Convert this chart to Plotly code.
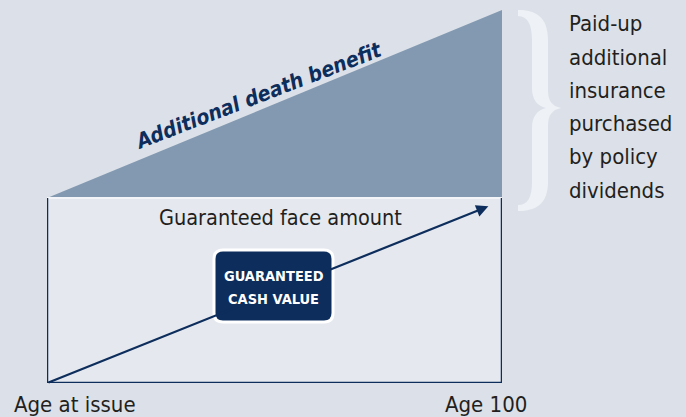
import plotly.graph_objects as go

# ---- data ----
age_labels = ["Age at issue", "Age 100"]
age_pos = [0, 1]
face_amount = [1.0, 1.0]
total_death_benefit = [1.0, 2.016]
cash_value = [0.0, 0.955]
cash_end_x = 0.97
label_additional = "Additional death benefit"
label_face = "Guaranteed face amount"
label_cash = ["GUARANTEED", "CASH VALUE"]
label_paidup = ["Paid-up", "additional", "insurance", "purchased", "by policy", "dividends"]

W, H = 686, 417
L, R, T, B = 47, 184, 0, 34
PW, PH = W - L - R, H - T - B
YMAX = 2.07

def px(x):  # pixel -> paper x
    return (x - L) / PW

def py(y):  # pixel -> paper y
    return (H - B - y) / PH

FONT = "DejaVu Sans Condensed, Liberation Sans Narrow, sans-serif"
NAVY = "#0d2d5c"
BG = "#dce1e9"
TRI = "#8399b1"
RECT = "#e5e8ee"
TXT = "#231f20"

fig = go.Figure()

# Additional death benefit triangle
fig.add_trace(go.Scatter(
    x=[age_pos[0], age_pos[1], age_pos[1], age_pos[0]],
    y=[total_death_benefit[0], total_death_benefit[1], face_amount[1], face_amount[0]],
    fill="toself", fillcolor=TRI, mode="lines", line=dict(width=0),
    hoverinfo="skip", showlegend=False))

# Guaranteed face amount rectangle
fig.add_trace(go.Scatter(
    x=[age_pos[0], age_pos[1], age_pos[1], age_pos[0], age_pos[0]],
    y=[0, 0, face_amount[1], face_amount[0], 0],
    fill="toself", fillcolor=RECT, mode="lines", line=dict(width=0),
    hoverinfo="skip", showlegend=False))

# top edge (light)
fig.add_trace(go.Scatter(
    x=age_pos, y=face_amount, mode="lines",
    line=dict(color="#f2f4f7", width=2), hoverinfo="skip", showlegend=False))

# navy border left/bottom/right
fig.add_trace(go.Scatter(
    x=[age_pos[0], age_pos[0], age_pos[1], age_pos[1]],
    y=[face_amount[0], 0, 0, face_amount[1]], mode="lines",
    line=dict(color=NAVY, width=2.5), hoverinfo="skip", showlegend=False))

# cash value arrow
fig.add_annotation(
    x=cash_end_x, y=cash_value[1], ax=age_pos[0], ay=cash_value[0],
    xref="x", yref="y", axref="x", ayref="y",
    showarrow=True, arrowhead=2, arrowsize=1.1, arrowwidth=2.2,
    arrowcolor=NAVY, text="")

# cash value box
bx0, bx1, by0, by1, r = 214, 333, 250, 322, 9
path = (f"M {px(bx0 + r)},{py(by0)} L {px(bx1 - r)},{py(by0)} "
        f"Q {px(bx1)},{py(by0)} {px(bx1)},{py(by0 + r)} "
        f"L {px(bx1)},{py(by1 - r)} Q {px(bx1)},{py(by1)} {px(bx1 - r)},{py(by1)} "
        f"L {px(bx0 + r)},{py(by1)} Q {px(bx0)},{py(by1)} {px(bx0)},{py(by1 - r)} "
        f"L {px(bx0)},{py(by0 + r)} Q {px(bx0)},{py(by0)} {px(bx0 + r)},{py(by0)} Z")
fig.add_shape(type="path", path=path, xref="paper", yref="paper",
              fillcolor=NAVY, line=dict(color="white", width=3), layer="above")
for i, t in enumerate(label_cash):
    fig.add_annotation(x=px((bx0 + bx1) / 2), y=py(276 + 23 * i), xref="paper", yref="paper",
                       xanchor="center", yanchor="middle",
                       text="<b>" + t + "</b>", showarrow=False,
                       font=dict(family=FONT, size=14.5, color="white"))

# brace
bp = [
    ("M", [(518, 10)]),
    ("C", [(536, 10), (548, 17), (548, 40)]),
    ("L", [(548, 90)]),
    ("C", [(548, 101), (552, 106), (561, 108)]),
    ("C", [(552, 110), (548, 115), (548, 126)]),
    ("L", [(548, 182)]),
    ("C", [(548, 204), (536, 211), (518, 211)]),
    ("L", [(518, 205)]),
    ("C", [(528, 205), (532, 197), (532, 182)]),
    ("L", [(532, 128)]),
    ("C", [(532, 117), (537, 110), (546, 108)]),
    ("C", [(537, 106), (532, 99), (532, 88)]),
    ("L", [(532, 40)]),
    ("C", [(532, 25), (528, 16), (518, 16)]),
]
bpath = " ".join(cmd + " " + " ".join(f"{px(x)},{py(y)}" for x, y in pts) for cmd, pts in bp) + " Z"
fig.add_shape(type="path", path=bpath, xref="paper", yref="paper",
              fillcolor="#eef1f5", line=dict(width=0), layer="above")

# labels
fig.add_annotation(x=px(258), y=py(96), xref="paper", yref="paper",
                   xanchor="center", yanchor="middle",
                   text="<b><i>" + label_additional + "</i></b>", textangle=-21,
                   showarrow=False, font=dict(family=FONT, size=21, color=NAVY))
fig.add_annotation(x=px(280), y=py(218), xref="paper", yref="paper",
                   xanchor="center", yanchor="middle",
                   text=label_face, showarrow=False,
                   font=dict(family=FONT, size=21.5, color=TXT))
for i, t in enumerate(label_paidup):
    fig.add_annotation(x=px(567), y=py(24 + 33.2 * i), xref="paper", yref="paper",
                       xanchor="left", yanchor="middle",
                       text=t, showarrow=False,
                       font=dict(family=FONT, size=22, color=TXT))
fig.add_annotation(x=px(12), y=py(404), xref="paper", yref="paper",
                   xanchor="left", yanchor="middle",
                   text=age_labels[0], showarrow=False,
                   font=dict(family=FONT, size=22, color=TXT))
fig.add_annotation(x=px(529), y=py(404), xref="paper", yref="paper",
                   xanchor="right", yanchor="middle",
                   text=age_labels[1], showarrow=False,
                   font=dict(family=FONT, size=22, color=TXT))

fig.update_layout(
    width=W, height=H, margin=dict(l=L, r=R, t=T, b=B),
    paper_bgcolor=BG, plot_bgcolor=BG,
    xaxis=dict(range=[age_pos[0], age_pos[1]], visible=False, fixedrange=True),
    yaxis=dict(range=[0, YMAX], visible=False, fixedrange=True),
    showlegend=False,
)
fig.write_html("out.html", config={"displayModeBar": False},
               post_script="document.body.style.margin='0';document.body.style.background='" + BG + "';")
